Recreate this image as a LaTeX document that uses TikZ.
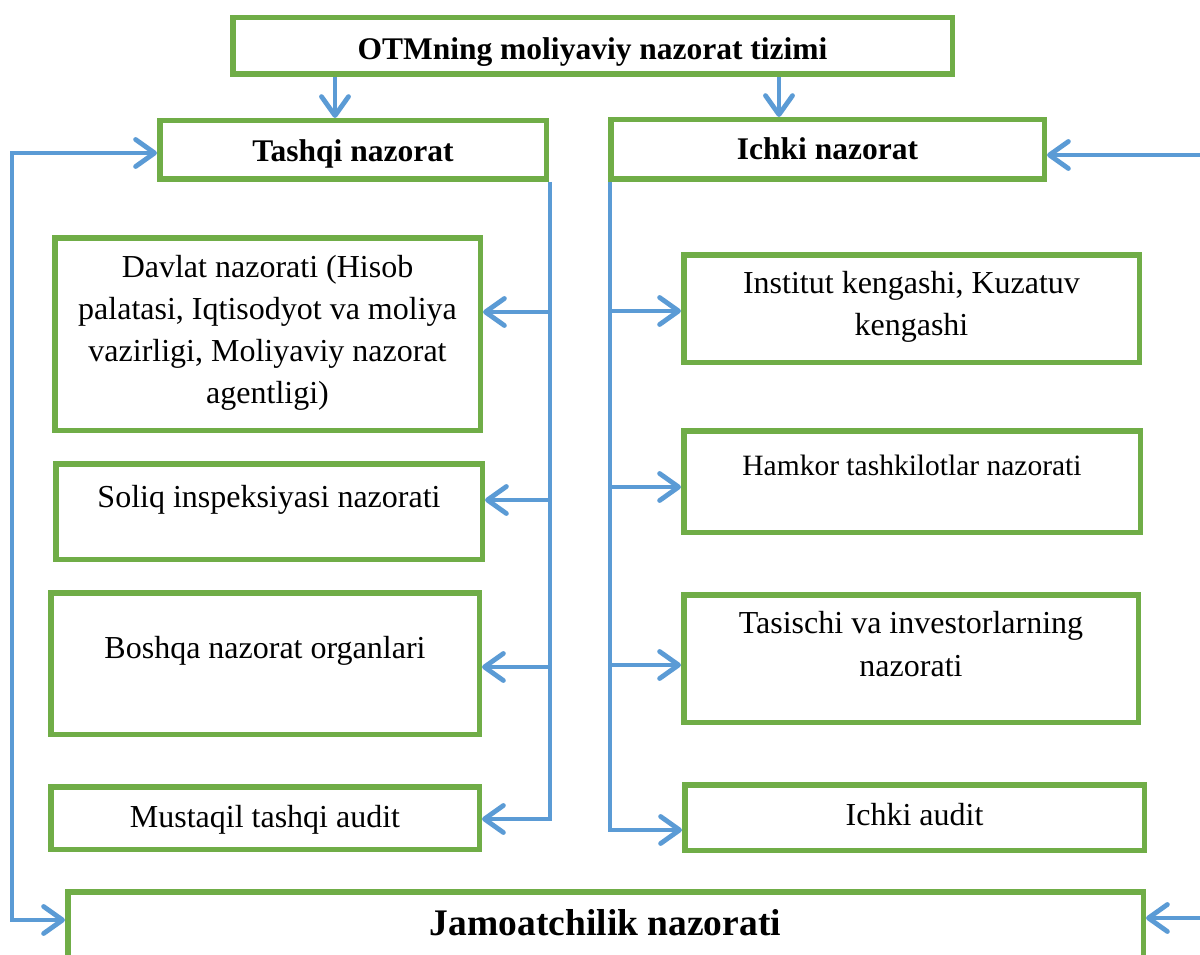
\documentclass[tikz,border=0pt]{standalone}
\usepackage{fontspec}
\setmainfont{Liberation Serif}
\usetikzlibrary{arrows.meta}
\definecolor{grn}{HTML}{70AD47}
\definecolor{blu}{HTML}{5B9BD5}
\begin{document}
\begin{tikzpicture}[x=1pt,y=-1pt,
  box/.style={draw=grn,line width=5.5pt,rectangle,inner sep=0pt,fill=white},
  ln/.style={draw=blu,line width=4.8pt},
  arr/.style={ln,-{Straight Barb[length=19pt,width=27pt,round]}},
  arrb/.style={ln,{Straight Barb[length=19pt,width=27pt,round]}-{Straight Barb[length=19pt,width=27pt,round]}},
  rt/.style={inner sep=0pt,anchor=base,font=\fontsize{32}{42}\selectfont},
  rts/.style={inner sep=0pt,anchor=base,font=\fontsize{29.5}{38}\selectfont},
  bt/.style={inner sep=0pt,anchor=base,font=\fontsize{31.5}{38}\selectfont\bfseries},
  bbt/.style={inner sep=0pt,anchor=base,font=\fontsize{37.5}{44}\selectfont\bfseries}]
\clip (0,0) rectangle (1200,955);
\fill[white] (0,0) rectangle (1200,955);
% boxes
\node[box,minimum width=719.5pt,minimum height=56.5pt] (top) at (592.5,46) {};
\node[box,minimum width=386.5pt,minimum height=58.5pt] (tashqi) at (353,150) {};
\node[box,minimum width=433.5pt,minimum height=59.5pt] (ichki) at (827.5,149.5) {};
\node[box,minimum width=425.5pt,minimum height=192.5pt] (davlat) at (267.5,334) {};
\node[box,minimum width=426.5pt,minimum height=95.5pt] (soliq) at (269,511.5) {};
\node[box,minimum width=428.5pt,minimum height=141.5pt] (boshqa) at (265,663.5) {};
\node[box,minimum width=428.5pt,minimum height=62.5pt] (mustaqil) at (265,818) {};
\node[box,minimum width=455.5pt,minimum height=107.5pt] (institut) at (911.5,308.5) {};
\node[box,minimum width=456.5pt,minimum height=101.5pt] (hamkor) at (912,481.5) {};
\node[box,minimum width=454.5pt,minimum height=127.5pt] (tasischi) at (911,658.5) {};
\node[box,minimum width=459.5pt,minimum height=65.5pt] (ichkiaudit) at (914.5,817.5) {};
\node[box,minimum width=1075.5pt,minimum height=80.5pt] (jamoat) at (605.5,932) {};
% texts
\node[bt] (t-top) at (592.5,60) {OTMning moliyaviy nazorat tizimi};
\node[bt] (t-tashqi) at (353,162) {Tashqi nazorat};
\node[bt] (t-ichki) at (827.5,160) {Ichki nazorat};
\node[rt] (t-d1) at (267.5,277) {Davlat nazorati (Hisob};
\node[rt] (t-d2) at (267.5,319) {palatasi, Iqtisodyot va moliya};
\node[rt] (t-d3) at (267.5,361) {vazirligi, Moliyaviy nazorat};
\node[rt] (t-d4) at (267.5,403) {agentligi)};
\node[rt] (t-soliq) at (269,507) {Soliq inspeksiyasi nazorati};
\node[rt] (t-boshqa) at (265,658) {Boshqa nazorat organlari};
\node[rt] (t-mustaqil) at (265,827) {Mustaqil tashqi audit};
\node[rt] (t-i1) at (911.5,293) {Institut kengashi, Kuzatuv};
\node[rt] (t-i2) at (911.5,335) {kengashi};
\node[rts] (t-hamkor) at (912,475) {Hamkor tashkilotlar nazorati};
\node[rt] (t-t1) at (911,633) {Tasischi va investorlarning};
\node[rt] (t-t2) at (911,676) {nazorati};
\node[rt] (t-audit) at (914.5,825) {Ichki audit};
\node[bbt] (t-jamoat) at (605.5,935) {Jamoatchilik nazorati};
% coordinates
\coordinate (xa) at (335,0);
\coordinate (xb) at (779,0);
\coordinate (tv) at (550,0);
\coordinate (iv) at (610,0);
\coordinate (d1) at (550,312);
\coordinate (d2) at (550,500);
\coordinate (d3) at (550,667);
\coordinate (d4) at (550,819);
\coordinate (e1) at (610,311);
\coordinate (e2) at (610,487);
\coordinate (e3) at (610,665);
\coordinate (e4) at (610,830);
\coordinate (L1) at (12,153);
\coordinate (L2) at (12,920);
\coordinate (R1) at (1200,155);
\coordinate (R2) at (1200,918);
% connectors
\draw[arr] (top.south -| xa) -- (tashqi.north -| xa);
\draw[arr] (top.south -| xb) -- (ichki.north -| xb);
\draw[arr] (d1) -- (d1 -| davlat.east);
\draw[arr] (d2) -- (d2 -| soliq.east);
\draw[arr] (d3) -- (d3 -| boshqa.east);
\draw[arr] (tashqi.south -| tv) -- (d4) -- (d4 -| mustaqil.east);
\draw[arr] (e1) -- (e1 -| institut.west);
\draw[arr] (e2) -- (e2 -| hamkor.west);
\draw[arr] (e3) -- (e3 -| tasischi.west);
\draw[arr] (ichki.south -| iv) -- (e4) -- (e4 -| ichkiaudit.west);
\draw[arrb] (L1 -| tashqi.west) -- (L1) -- (L2) -- (L2 -| jamoat.west);
\draw[arr] (R1) -- (R1 -| ichki.east);
\draw[arr] (R2) -- (R2 -| jamoat.east);
\end{tikzpicture}
\end{document}
